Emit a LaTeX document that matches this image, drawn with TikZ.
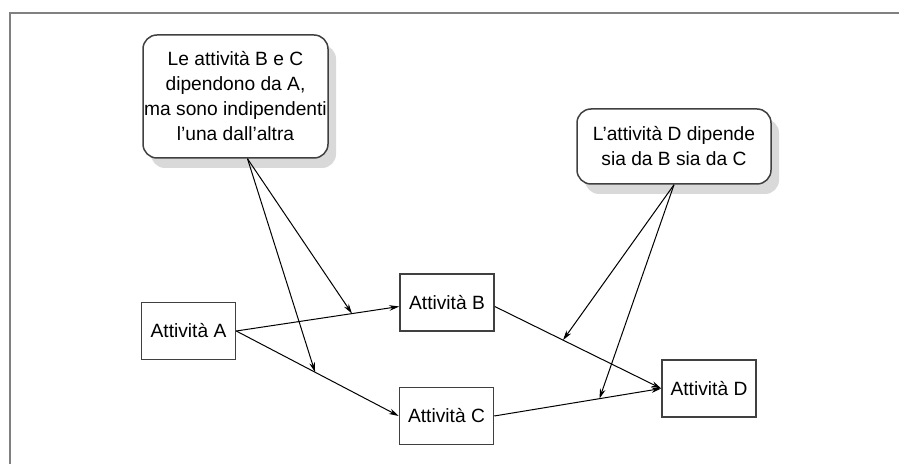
\documentclass[tikz,border=0pt]{standalone}
\usepackage{fontspec}
\setmainfont{Liberation Sans}
\usepackage{tikz}
\usetikzlibrary{calc}
\usetikzlibrary{positioning}
\usetikzlibrary{shadows}
\usetikzlibrary{arrows.meta}
\tikzset{
  attnode/.style = {draw=black!75, line width=0.75pt, minimum width=47pt,
    minimum height=28.5pt, inner sep=0.5pt, fill=white,
    font=\fontsize{9.6}{12.5}\selectfont},
  notenode/.style = {attnode, rounded corners=7pt, align=center,
    drop shadow={shadow xshift=4pt, shadow yshift=-5pt, fill=black!15, opacity=1}},% riquadro di commento
  arr/.style = {->, >={Stealth[length=5pt, width=2.8pt]}, line width=0.5pt, black},
}
\begin{document}
\begin{tikzpicture}[x=0.5pt, y=-0.5pt]
\useasboundingbox (0,0) rectangle (899,464);
\draw[black!50, line width=0.75pt] (899,13) -- (10,13) -- (10,464);

% attivita
\node [attnode] (A) at (188.5,331) {Attività A};
\node [attnode] (B) at (447,302.5) {Attività B};
\node [attnode] (C) at (446.5,416) {Attività C};
\node [attnode] (D) at (709,388.5) {Attività D};

% commenti
\node [notenode, minimum width=92.5pt, minimum height=61.5pt] (n1) at (235.5,96.5)
  {Le attività B e C\\dipendono da A,\\ma sono indipendenti\\l’una dall’altra};
\node [notenode, minimum width=97pt, minimum height=37.5pt] (n2) at (674,146.5)
  {L’attività D dipende\\sia da B sia da C};

% dipendenze
\draw[arr] (A.east) -- coordinate[pos=0.71] (ab) ([yshift=-2pt]B.west);
\draw[arr] (A.east) -- coordinate[pos=0.485] (ac) (C.west);
\draw[arr] ([yshift=-2pt]B.east) -- coordinate[pos=0.41] (bd) (D.west);
\draw[arr] (C.east) -- coordinate[pos=0.63] (cd) (D.west);

% frecce dai commenti
\draw[arr] ([xshift=6pt]n1.south) -- (ab);
\draw[arr] ([xshift=6pt]n1.south) -- (ac);
\draw[arr] (n2.south) -- (bd);
\draw[arr] (n2.south) -- (cd);
\end{tikzpicture}
\end{document}
